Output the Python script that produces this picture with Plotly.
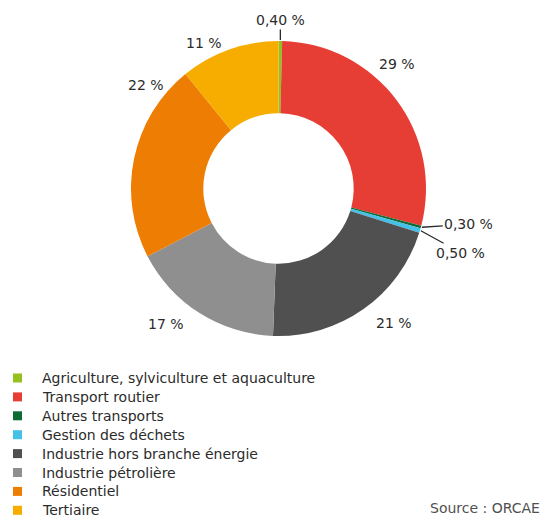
import math
import plotly.graph_objects as go

# Sector shares (%), in clockwise order starting at 12 o'clock
sectors = [
    "Agriculture, sylviculture et aquaculture",
    "Transport routier",
    "Autres transports",
    "Gestion des déchets",
    "Industrie hors branche énergie",
    "Industrie pétrolière",
    "Résidentiel",
    "Tertiaire",
]
shares = [0.4, 29, 0.3, 0.5, 21, 17, 22, 11]
share_labels = ["0,40 %", "29 %", "0,30 %", "0,50 %", "21 %", "17 %", "22 %", "11 %"]
colors = ["#95c11f", "#e63d35", "#0e6b34", "#45c0e6", "#505050", "#8f8f8f", "#ee7d03", "#f7ad00"]

# Label placement: small slices get a leader line (text offset in px),
# large slices get a plain label (angle nudge in degrees, radius in px)
leader_offsets = {0: (0, -20), 2: (47, -3), 3: (40, 22)}
label_nudge = {1: (-9.4, 172), 4: (-5.4, 177), 5: (7.5, 176), 6: (26.1, 168), 7: (-7.6, 164)}

W, H = 541, 522
CX, CY, R = 278.5, 188.5, 147.5   # donut centre and outer radius, px
HOLE = 0.51

# Key below the chart (px)
KEY_TOP, KEY_STEP, KEY_SWATCH_X, KEY_SWATCH, KEY_TEXT_X = 378, 18.9, 17.5, 9, 40

FONT = "DejaVu Sans"
TEXT_COLOR = "#2b2b2b"

fig = go.Figure(go.Pie(
    labels=sectors,
    values=shares,
    marker=dict(colors=colors, line=dict(width=0)),
    hole=HOLE,
    sort=False,
    direction="clockwise",
    rotation=0,
    textinfo="none",
    hoverinfo="label+percent",
    showlegend=False,
    domain=dict(x=[(CX - R) / W, (CX + R) / W], y=[1 - (CY + R) / H, 1 - (CY - R) / H]),
))


def px_x(px):
    return px / W


def px_y(py):
    return 1 - py / H


total = sum(shares)
annotations = []
shapes = []
cum = 0.0
for i, v in enumerate(shares):
    mid = (cum + v / 2) / total * 360.0
    cum += v
    if i in leader_offsets:
        ax, ay = leader_offsets[i]
        rr = R + 1
        tx = CX + rr * math.sin(math.radians(mid))
        ty = CY - rr * math.cos(math.radians(mid))
        annotations.append(dict(
            x=px_x(tx), y=px_y(ty), xref="paper", yref="paper", text=share_labels[i],
            showarrow=True, arrowhead=0, arrowwidth=1.3, arrowcolor="#2a2a2a",
            ax=ax, ay=ay, standoff=0,
            font=dict(family=FONT, size=14, color=TEXT_COLOR),
        ))
    else:
        dtheta, rr = label_nudge[i]
        a = math.radians(mid + dtheta)
        annotations.append(dict(
            x=px_x(CX + rr * math.sin(a)), y=px_y(CY - rr * math.cos(a)),
            xref="paper", yref="paper", text=share_labels[i],
            showarrow=False, xanchor="center", yanchor="middle",
            font=dict(family=FONT, size=14, color=TEXT_COLOR),
        ))

# Colour key
for i, (name, col) in enumerate(zip(sectors, colors)):
    yc = KEY_TOP + i * KEY_STEP
    h = KEY_SWATCH / 2
    shapes.append(dict(
        type="rect", xref="paper", yref="paper",
        x0=px_x(KEY_SWATCH_X - h), x1=px_x(KEY_SWATCH_X + h),
        y0=px_y(yc + h), y1=px_y(yc - h),
        fillcolor=col, line=dict(width=0),
    ))
    annotations.append(dict(
        x=px_x(KEY_TEXT_X), y=px_y(yc), xref="paper", yref="paper", text=name,
        showarrow=False, xanchor="left", yanchor="middle",
        font=dict(family=FONT, size=14, color=TEXT_COLOR),
    ))

annotations.append(dict(
    x=px_x(428), y=px_y(508), xref="paper", yref="paper", text="Source : ORCAE",
    showarrow=False, xanchor="left", yanchor="middle",
    font=dict(family=FONT, size=14, color="#505050"),
))

fig.update_layout(
    width=W, height=H,
    margin=dict(l=0, r=0, t=0, b=0),
    paper_bgcolor="white",
    plot_bgcolor="white",
    font=dict(family=FONT, size=14, color=TEXT_COLOR),
    annotations=annotations,
    shapes=shapes,
    showlegend=False,
)

fig.write_html("out.html")
